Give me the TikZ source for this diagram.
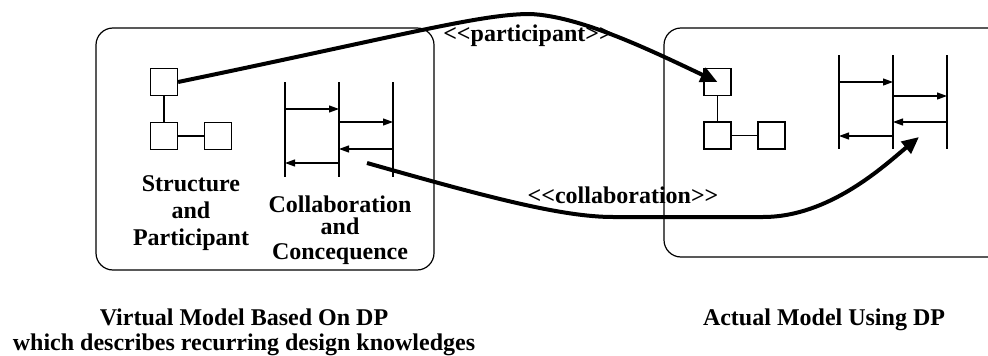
\documentclass[tikz,border=0pt]{standalone}
\usepackage{fontspec}
\setmainfont{Liberation Serif}
\usetikzlibrary{arrows.meta}
\begin{document}
\begin{tikzpicture}[x=1pt,y=-1pt,
  box/.style={draw, line width=1.2pt, rounded corners=17pt},
  sq/.style={draw, line width=1.2pt, minimum size=27pt, inner sep=0pt},
  life/.style={line width=1.2pt},
  msg/.style={line width=1.2pt, -{Triangle[length=10pt,width=7pt]}},
  big/.style={line width=4pt, -{Triangle[length=17pt,width=15pt]}},
  lbl/.style={font=\fontsize{24}{27}\selectfont\bfseries, inner sep=0pt, anchor=base},
]
\useasboundingbox (0,0) rectangle (988,356);
\clip (0,0) rectangle (988,356);

% boxes
\draw[box] (96,28) rectangle (434,270);
\draw[box] (664,28) rectangle (1004,257);

% left structure
\node[sq] (ls1) at (164,82) {};
\node[sq] (ls2) at (164,136) {};
\node[sq] (ls3) at (218,136) {};
\draw[life] (ls1) -- (ls2);
\draw[life] (ls2) -- (ls3);

% right structure
\node[sq] (rs1) at (717.5,82) {};
\node[sq] (rs2) at (717.5,135.5) {};
\node[sq] (rs3) at (771.5,135.5) {};
\draw[life] (rs1) -- (rs2);
\draw[life] (rs2) -- (rs3);

% left sequence
\foreach \x in {285,339,393} \draw[life] (\x,82) -- (\x,177);
\draw[msg] (285,109) -- (339,109);
\draw[msg] (339,122) -- (393,122);
\draw[msg] (393,149) -- (339,149);
\draw[msg] (339,163) -- (285,163);

% right sequence
\foreach \x in {839,893,947} \draw[life] (\x,55) -- (\x,149);
\draw[msg] (839,82) -- (893,82);
\draw[msg] (893,96) -- (947,96);
\draw[msg] (947,122) -- (893,122);
\draw[msg] (893,136) -- (839,136);

% texts
\node[lbl] (t1) at (191,191) {Structure};
\node[lbl] (t2) at (191,218) {and};
\node[lbl] (t3) at (191,245) {Participant};
\node[lbl] (t4) at (340,212) {Collaboration};
\node[lbl] (t5) at (340,234) {and};
\node[lbl] (t6) at (340,259) {Concequence};
\node[lbl] (b1) at (244,325) {Virtual Model Based On DP};
\node[lbl] (b2) at (244,350) {which describes recurring design knowledges};
\node[lbl] (b3) at (824,325) {Actual Model Using DP};

% big arrows
\coordinate (cs) at (367,163);
\coordinate (ce) at (919,137);
\draw[big] (ls1.east) .. controls (400,36) and (480,14) .. (530,14)
   .. controls (580,16) and (650,50) .. (rs1.center);
\draw[big] (cs) .. controls (480,195) and (560,217) .. (613,217) -- (763,217)
   .. controls (830,217) and (885,165) .. (ce);

\node[lbl] (pl) at (528,41) {<\kern0pt<participant>\kern0pt>};
\node[lbl] (cl) at (623,203) {<\kern0pt<collaboration>\kern0pt>};
\end{tikzpicture}
\end{document}
